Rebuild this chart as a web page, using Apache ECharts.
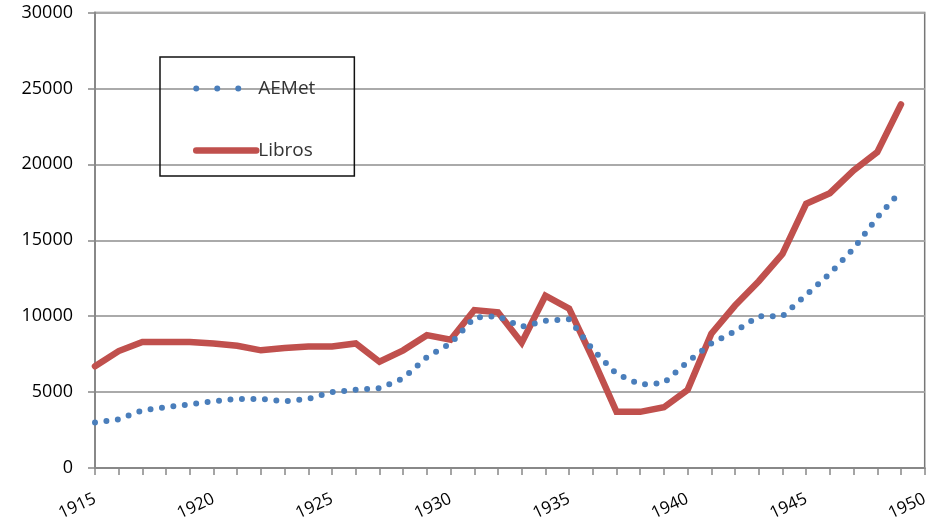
<!DOCTYPE html>
<html>
<head>
<meta charset="utf-8">
<script src="https://cdn.jsdelivr.net/npm/echarts@6/dist/echarts.min.js"></script>
<style>
  html, body { margin: 0; padding: 0; background: #fff; }
  #chart { width: 931px; height: 529px; }
</style>
</head>
<body>
<div id="chart"></div>
<script>
// years 1915..1949
const years = [1915, 1916, 1917, 1918, 1919, 1920, 1921, 1922, 1923, 1924,
               1925, 1926, 1927, 1928, 1929, 1930, 1931, 1932, 1933, 1934,
               1935, 1936, 1937, 1938, 1939, 1940, 1941, 1942, 1943, 1944,
               1945, 1946, 1947, 1948, 1949];

const aemet = [3000, 3200, 3800, 4000, 4200, 4400, 4550, 4550, 4400, 4550,
               5000, 5150, 5250, 5900, 7300, 8200, 9900, 10000, 9300, 9700,
               9800, 7800, 6200, 5500, 5600, 7000, 8200, 9000, 10000, 10000,
               11400, 12800, 14450, 16500, 18250];

const libros = [6700, 7700, 8300, 8300, 8300, 8200, 8050, 7750, 7900, 8000,
                8000, 8200, 7000, 7750, 8750, 8450, 10400, 10250, 8250, 11350,
                10500, 7200, 3700, 3700, 4000, 5150, 8850, 10700, 12300, 14100,
                17400, 18100, 19600, 20800, 23950];

const yTicks = { min: 0, max: 30000, step: 5000 };
const xTicks = { min: 1915, max: 1950, step: 5 };

const blue = '#4a7ebb';
const red = '#c0504d';

function pairs(xs, ys) {
    return xs.map(function(x, i) { return [x, ys[i]]; });
}

const dotted = { color: blue, width: 6, type: [0, 11.5], cap: 'round', join: 'round' };
const solid = { color: red, width: 6.5, cap: 'round', join: 'miter' };

const chart = echarts.init(document.getElementById('chart'));

chart.setOption({
    animation: false,
    grid: {
        left: 95, right: 3, top: 12.5, bottom: 61,
        show: true,
        borderColor: '#777',
        borderWidth: 1.5
    },
    legend: {
        orient: 'vertical',
        left: 160,
        top: 57,
        itemWidth: 60,
        itemHeight: 20,
        itemGap: 43,
        padding: [22, 39, 16, 33],
        borderColor: '#111',
        borderWidth: 1.5,
        itemStyle: { opacity: 0 },
        textStyle: { fontFamily: 'Open Sans', fontSize: 19, color: '#333', padding: [0, 0, 0, -3] },
        data: [
            { name: 'AEMet', lineStyle: { color: blue, width: 6, type: [0, 21], cap: 'round' } },
            { name: 'Libros', lineStyle: solid }
        ]
    },
    xAxis: {
        type: 'value',
        min: xTicks.min,
        max: xTicks.max,
        interval: xTicks.step,
        axisLine: { lineStyle: { color: '#888', width: 2 } },
        axisTick: { show: true, length: 7, lineStyle: { color: '#888', width: 1.5 } },
        minorTick: { show: true, splitNumber: 5, length: 7, lineStyle: { color: '#888', width: 1.5 } },
        splitLine: { show: false },
        axisLabel: {
            rotate: 25,
            margin: 30,
            fontFamily: 'Open Sans',
            fontSize: 17,
            color: '#000',
            formatter: function(v) { return String(v); }
        }
    },
    yAxis: {
        type: 'value',
        min: yTicks.min,
        max: yTicks.max,
        interval: yTicks.step,
        axisLine: { show: true, lineStyle: { color: '#888', width: 2 } },
        axisTick: { show: true, length: 7, lineStyle: { color: '#888', width: 1.5 } },
        splitLine: { lineStyle: { color: '#aaa', width: 2 } },
        axisLabel: {
            margin: 22,
            fontFamily: 'Open Sans',
            fontSize: 18,
            color: '#000',
            formatter: function(v) { return String(v); }
        }
    },
    series: [
        {
            name: 'AEMet',
            type: 'line',
            data: pairs(years, aemet),
            symbol: 'none',
            itemStyle: { color: blue },
            lineStyle: dotted,
            z: 3
        },
        {
            name: 'Libros',
            type: 'line',
            data: pairs(years, libros),
            symbol: 'none',
            itemStyle: { color: red },
            lineStyle: solid,
            z: 2
        }
    ]
});
</script>
</body>
</html>
